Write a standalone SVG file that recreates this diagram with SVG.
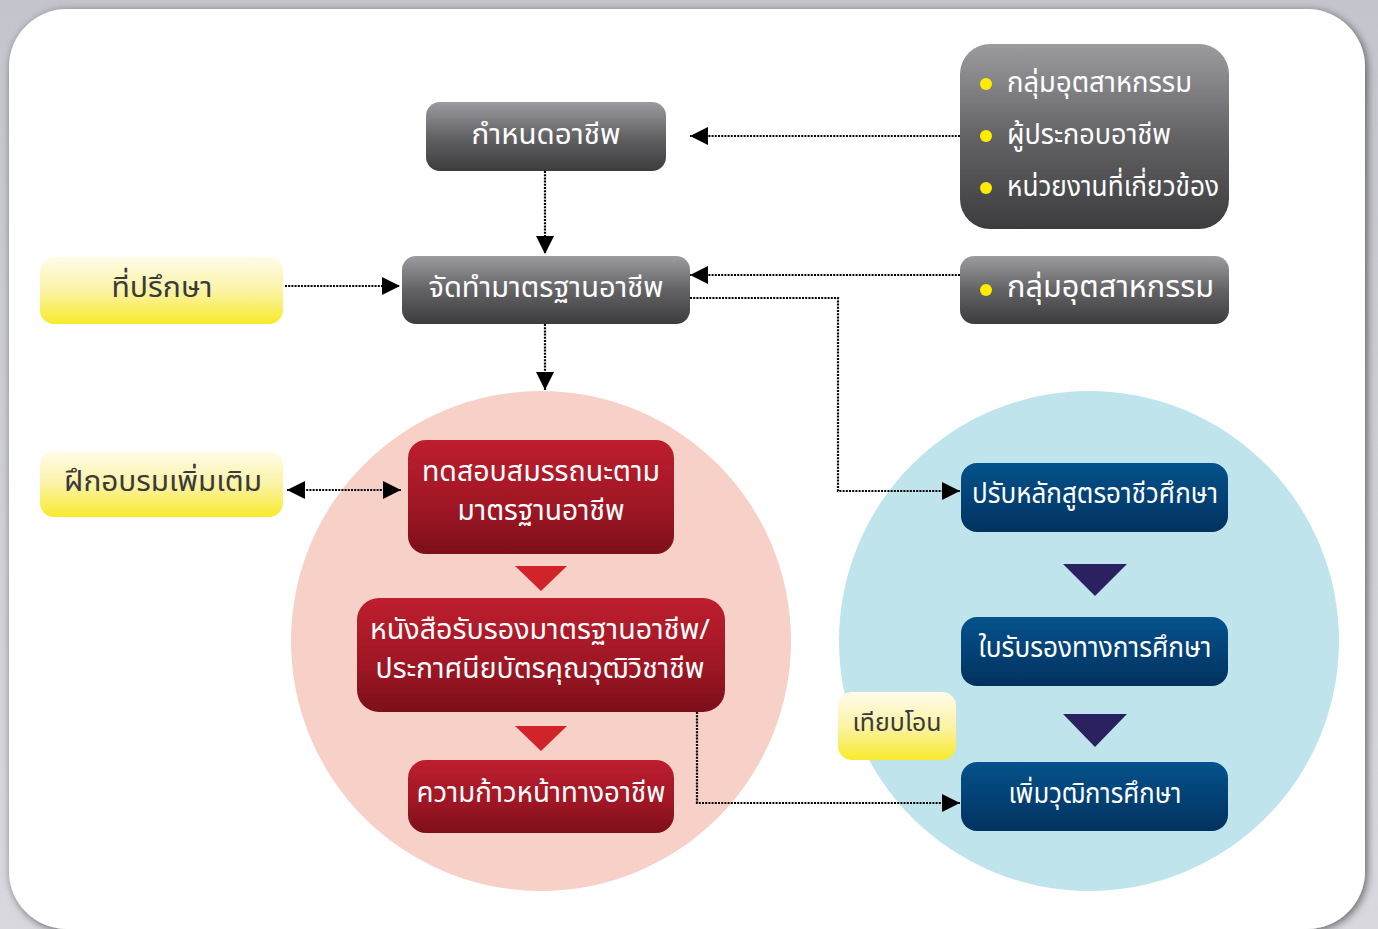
<svg xmlns="http://www.w3.org/2000/svg" width="1378" height="929" viewBox="0 0 1378 929">
<defs>
<linearGradient id="gFrame" x1="0" y1="0" x2="0" y2="1"><stop offset="0" stop-color="#c4c4cc"/><stop offset="1" stop-color="#d8d8de"/></linearGradient>
<linearGradient id="gGray" x1="0" y1="0" x2="0" y2="1"><stop offset="0" stop-color="#9c9ca0"/><stop offset="0.5" stop-color="#636366"/><stop offset="1" stop-color="#3c3c3e"/></linearGradient>
<linearGradient id="gYel" x1="0" y1="0" x2="0" y2="1"><stop offset="0" stop-color="#fffcea"/><stop offset="0.5" stop-color="#fbf3a6"/><stop offset="1" stop-color="#f8ea2c"/></linearGradient>
<linearGradient id="gRed" x1="0" y1="0" x2="0" y2="1"><stop offset="0" stop-color="#be1e2e"/><stop offset="0.6" stop-color="#9e1624"/><stop offset="1" stop-color="#7c0f1a"/></linearGradient>
<linearGradient id="gBlue" x1="0" y1="0" x2="0" y2="1"><stop offset="0" stop-color="#04528c"/><stop offset="1" stop-color="#02325f"/></linearGradient>
<filter id="sh" x="-5%" y="-5%" width="110%" height="110%"><feGaussianBlur in="SourceAlpha" stdDeviation="4"/><feOffset dx="2" dy="2"/><feComponentTransfer><feFuncA type="linear" slope="0.55"/></feComponentTransfer><feMerge><feMergeNode/><feMergeNode in="SourceGraphic"/></feMerge></filter>
<marker id="ahb" viewBox="0 0 10 10" refX="10" refY="5" markerWidth="18" markerHeight="18" markerUnits="userSpaceOnUse" orient="auto-start-reverse"><path d="M0,0 L10,5 L0,10 z" fill="#000"/></marker>
</defs>
<style>
text{font-family:"Noto Sans Thai","Noto Sans Thai Looped","Noto Sans","DejaVu Sans",sans-serif;text-anchor:middle}
.w{fill:#fff;font-size:28px}
.d{fill:#3a3a3a;font-size:28px}
.b{fill:#fff;font-size:28px;text-anchor:start}
.c{fill:none;stroke:#000;stroke-width:2.2;stroke-dasharray:2 1.2}
</style>
<rect x="0" y="0" width="1378" height="929" fill="url(#gFrame)"/>
<rect x="9" y="9" width="1356" height="920" rx="58" fill="#fff" filter="url(#sh)"/>
<circle cx="541" cy="641" r="250" fill="#f7d1c7"/>
<circle cx="1089" cy="641" r="250" fill="#bfe4ec"/>
<g id="connectors">
<path class="c" d="M960,136 H690" marker-end="url(#ahb)"/>
<path class="c" d="M545,171 V254" marker-end="url(#ahb)"/>
<path class="c" d="M285,286 H400" marker-end="url(#ahb)"/>
<path class="c" d="M960,275 H690" marker-end="url(#ahb)"/>
<path class="c" d="M690,298 H838 V491 H960" marker-end="url(#ahb)"/>
<path class="c" d="M545,324 V390" marker-end="url(#ahb)"/>
<path class="c" d="M287,490 H401" marker-start="url(#ahb)" marker-end="url(#ahb)"/>
<path class="c" d="M697,712 V803 H960" marker-end="url(#ahb)"/>
<path d="M515,566 H567 L541,591 z" fill="#d02428"/>
<path d="M515,726 H567 L541,751 z" fill="#d02428"/>
<path d="M1063,564 H1127 L1095,596 z" fill="#2b2160"/>
<path d="M1063,714 H1127 L1095,747 z" fill="#2b2160"/>
</g>
<g id="n-kamnot"><rect x="426" y="102" width="240" height="69" rx="14" fill="url(#gGray)"/><text class="w" x="546" y="144" textLength="149" lengthAdjust="spacingAndGlyphs">กำหนดอาชีพ</text></g>
<g id="n-jattham"><rect x="402" y="256" width="288" height="68" rx="14" fill="url(#gGray)"/><text class="w" x="546" y="297" textLength="235" lengthAdjust="spacingAndGlyphs">จัดทำมาตรฐานอาชีพ</text></g>
<g id="n-group3"><rect x="960" y="44" width="269" height="185" rx="30" fill="url(#gGray)"/>
<circle cx="986" cy="84" r="6" fill="#ffec00"/><circle cx="986" cy="136" r="6" fill="#ffec00"/><circle cx="986" cy="188" r="6" fill="#ffec00"/>
<text class="b" x="1007" y="92" textLength="185" lengthAdjust="spacingAndGlyphs">กลุ่มอุตสาหกรรม</text><text class="b" x="1007" y="144" textLength="164" lengthAdjust="spacingAndGlyphs">ผู้ประกอบอาชีพ</text><text class="b" x="1007" y="196" textLength="212" lengthAdjust="spacingAndGlyphs">หน่วยงานที่เกี่ยวข้อง</text></g>
<g id="n-industry"><rect x="960" y="256" width="269" height="68" rx="14" fill="url(#gGray)"/><circle cx="986" cy="290" r="6" fill="#ffec00"/><text class="b" x="1007" y="297" style="font-size:30px" textLength="207" lengthAdjust="spacingAndGlyphs">กลุ่มอุตสาหกรรม</text></g>
<g id="n-advisor"><rect x="40" y="257" width="243" height="67" rx="14" fill="url(#gYel)"/><text class="d" x="162" y="297" style="font-size:29px" textLength="101" lengthAdjust="spacingAndGlyphs">ที่ปรึกษา</text></g>
<g id="n-training"><rect x="40" y="451" width="243" height="66" rx="14" fill="url(#gYel)"/><text class="d" x="163" y="491" style="font-size:29px" textLength="198" lengthAdjust="spacingAndGlyphs">ฝึกอบรมเพิ่มเติม</text></g>
<g id="n-test"><rect x="408" y="440" width="266" height="114" rx="18" fill="url(#gRed)"/><text class="w" x="541" y="481" textLength="238" lengthAdjust="spacingAndGlyphs">ทดสอบสมรรถนะตาม</text><text class="w" x="541" y="520" textLength="167" lengthAdjust="spacingAndGlyphs">มาตรฐานอาชีพ</text></g>
<g id="n-cert"><rect x="357" y="598" width="368" height="114" rx="22" fill="url(#gRed)"/><text class="w" x="540" y="639" textLength="340" lengthAdjust="spacingAndGlyphs">หนังสือรับรองมาตรฐานอาชีพ/</text><text class="w" x="540" y="678" textLength="329" lengthAdjust="spacingAndGlyphs">ประกาศนียบัตรคุณวุฒิวิชาชีพ</text></g>
<g id="n-career"><rect x="408" y="760" width="266" height="73" rx="18" fill="url(#gRed)"/><text class="w" x="541" y="802" textLength="249" lengthAdjust="spacingAndGlyphs">ความก้าวหน้าทางอาชีพ</text></g>
<g id="n-curr"><rect x="961" y="463" width="267" height="69" rx="16" fill="url(#gBlue)"/><text class="w" x="1095" y="503" textLength="246" lengthAdjust="spacingAndGlyphs">ปรับหลักสูตรอาชีวศึกษา</text></g>
<g id="n-edcert"><rect x="961" y="617" width="267" height="69" rx="16" fill="url(#gBlue)"/><text class="w" x="1095" y="657" textLength="233" lengthAdjust="spacingAndGlyphs">ใบรับรองทางการศึกษา</text></g>
<g id="n-degree"><rect x="961" y="762" width="267" height="69" rx="16" fill="url(#gBlue)"/><text class="w" x="1095" y="803" textLength="173" lengthAdjust="spacingAndGlyphs">เพิ่มวุฒิการศึกษา</text></g>
<g id="n-transfer"><rect x="838" y="692" width="118" height="68" rx="14" fill="url(#gYel)"/><text class="d" x="897" y="731" style="font-size:25px" textLength="89" lengthAdjust="spacingAndGlyphs">เทียบโอน</text></g>
</svg>
